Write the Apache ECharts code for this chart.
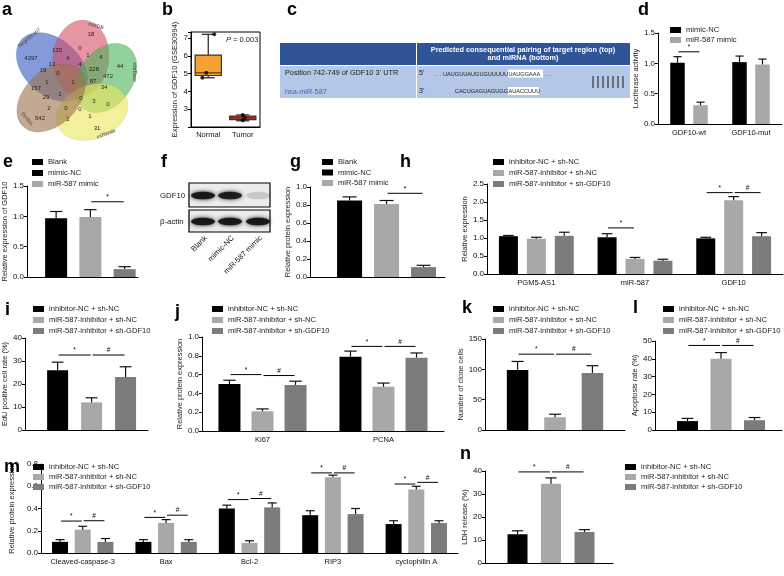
<!DOCTYPE html>
<html><head><meta charset="utf-8">
<script src="https://cdn.jsdelivr.net/npm/echarts@6.0.0/dist/echarts.min.js"></script>
<style>html,body{margin:0;padding:0;background:#fff}#c{width:784px;height:576px}</style>
</head><body><div id="c"></div>
<script>
// ---------------- DATA ----------------
// a: Venn
const vennSets = ['TargetScan7','miRDB','starBase','miRWalk','DIANA'];
const vennCounts = [4297,18,135,0,1,4,4,44,13,4,228,472,19,0,87,34,1,1,157,29,1,0,3,0,2,0,0,542,2,1,31];
// b: box plot GSE30994
const bCats = ['Normal','Tumor'];
const bStats = [[4.77,4.9,5.05,6.05,7.22],[2.35,2.42,2.52,2.62,2.68]];
const bNormalPts = [7.22,5.05,4.77];
const bTumorPts = [2.68,2.52,2.38];
const bPvalue = '0.003';
// d: luciferase
const dCats = ['GDF10-wt','GDF10-mut'];
const dSeries = ['mimic-NC','miR-587 mimic'];
const dMean = [[1.01,1.02],[0.31,0.98]];
const dErr = [[0.10,0.10],[0.05,0.09]];
const dSig = [[0,0,1,1.19,'*']];
// e: qPCR GDF10
const eSeries = ['Blank','mimic-NC','miR-587 mimic'];
const eMean = [0.97,0.99,0.13];
const eErr = [0.11,0.12,0.04];
const eSig = [[0,1,2,1.24,'*']];
// f: western blot band intensity
const fRows = ['GDF10','β-actin'];
const fLanes = ['Blank','mimic-NC','miR-587 mimic'];
const fGDF10 = [0.95,0.9,0.15];
const fActin = [0.95,0.95,0.95];
// g: protein
const gMean = [0.85,0.81,0.11];
const gErr = [0.04,0.04,0.02];
const gSig = [[0,1,2,0.93,'*']];
// shared groups h-n
const grpSeries = ['inhibitor-NC + sh-NC','miR-587-inhibitor + sh-NC','miR-587-inhibitor + sh-GDF10'];
// h
const hCats = ['PGM5-AS1','miR-587','GDF10'];
const hMean = [[1.05,1.02,0.99],[0.98,0.42,2.05],[1.06,0.37,1.05]];
const hErr = [[0.02,0.10,0.03],[0.04,0.04,0.10],[0.10,0.04,0.10]];
const hSig = [[1,0,1,1.28,'*'],[2,0,1,2.26,'*'],[2,1,2,2.26,'#']];
// i
const iMean = [26,12,23];
const iErr = [3.5,2,4.5];
const iSig = [[0,0,1,32.6,'*'],[0,1,2,32.6,'#']];
// j
const jCats = ['Ki67','PCNA'];
const jMean = [[0.50,0.79],[0.21,0.47],[0.49,0.78]];
const jErr = [[0.04,0.06],[0.025,0.04],[0.04,0.05]];
const jSig = [[0,0,1,0.60,'*'],[0,1,2,0.59,'#'],[1,0,1,0.90,'*'],[1,1,2,0.90,'#']];
// k
const kMean = [99,21,94];
const kErr = [14,5,12];
const kSig = [[0,0,1,125,'*'],[0,1,2,125,'#']];
// l
const lMean = [5,40,5.5];
const lErr = [1.5,3.5,1.5];
const lSig = [[0,0,1,47.5,'*'],[0,1,2,47.5,'#']];
// m
const mCats = ['Cleaved-caspase-3','Bax','Bcl-2','RIP3','cyclophilin A'];
const mMean = [[0.10,0.10,0.40,0.34,0.26],[0.21,0.27,0.09,0.68,0.57],[0.10,0.10,0.41,0.35,0.27]];
const mErr = [[0.02,0.02,0.03,0.04,0.03],[0.03,0.03,0.02,0.02,0.03],[0.03,0.02,0.04,0.05,0.02]];
const mSig = [[0,0,1,0.287,'*'],[0,1,2,0.29,'#'],[1,0,1,0.32,'*'],[1,1,2,0.34,'#'],[2,0,1,0.48,'*'],[2,1,2,0.49,'#'],[3,0,1,0.72,'*'],[3,1,2,0.72,'#'],[4,0,1,0.62,'*'],[4,1,2,0.635,'#']];
// n
const nMean = [12.5,34.5,13.5];
const nErr = [1.5,2.5,1];
const nSig = [[0,0,1,39.6,'*'],[0,1,2,39.6,'#']];

// ---------------- STYLE / LAYOUT ----------------
const FONT = '"Liberation Sans", Arial, Helvetica, sans-serif';
const BLK = '#000000', LG = '#a8a8a8', DG = '#7c7c7c';
const C3 = [BLK, LG, DG];
const TICK_FS = 8, CAT_FS = 7.5, NAME_FS = 7.5, LEG_FS = 7.6;
const single = a => a.map(v => [v]);

const panels = [
 {left:658,right:782,top:33,bottom:124,ymin:0,ymax:1.5,yint:0.5,dec:1,xmin:-0.5,xmax:1.5,cats:dCats,names:dSeries,colors:[BLK,LG],means:dMean,errs:dErr,bw:14.5,sp:0.371,yName:'Luciferase activity',nameGap:14,sig:dSig,leg:[670,25.5],legGap:1},
 {left:27,right:138,top:186,bottom:277,ymin:0,ymax:1.5,yint:0.5,dec:1,xmin:-1.85,xmax:1.39,cats:null,names:eSeries,colors:C3,means:single(eMean),errs:single(eErr),bw:22,sp:1,yName:'Relative expression of GDF10',nameGap:16,sig:eSig,leg:[32,157.5],legGap:2},
 {left:310,right:445,top:187,bottom:277,ymin:0,ymax:1.0,yint:0.2,dec:1,xmin:-2.07,xmax:1.58,cats:null,names:eSeries,colors:C3,means:single(gMean),errs:single(gErr),bw:25,sp:1,yName:'Relative protein expression',nameGap:16,sig:gSig,leg:[322,157.5],legGap:1.5},
 {left:487,right:783,top:184,bottom:274,ymin:0,ymax:2.5,yint:0.5,dec:1,xmin:-0.5,xmax:2.5,cats:hCats,names:grpSeries,colors:C3,means:hMean,errs:hErr,bw:19,sp:0.283,yName:'Relative expression',nameGap:15,sig:hSig,leg:[493,157.5],legGap:2},
 {left:25,right:148,top:338,bottom:430,ymin:0,ymax:40,yint:10,dec:0,xmin:-1.96,xmax:1.66,cats:null,names:grpSeries,colors:C3,means:single(iMean),errs:single(iErr),bw:21,sp:1,yName:'EdU positive cell rate (%)',nameGap:14,sig:iSig,leg:[33,304.5],legGap:2},
 {left:202,right:444,top:337,bottom:431,ymin:0,ymax:1.0,yint:0.2,dec:1,xmin:-0.5,xmax:1.5,cats:jCats,names:grpSeries,colors:C3,means:jMean,errs:jErr,bw:22,sp:0.273,yName:'Relative protein expression',nameGap:16,sig:jSig,leg:[212,304.5],legGap:2},
 {left:485,right:625,top:339,bottom:430,ymin:0,ymax:150,yint:50,dec:0,xmin:-1.87,xmax:1.87,cats:null,names:grpSeries,colors:C3,means:single(kMean),errs:single(kErr),bw:21.5,sp:1,yName:'Number of clone cells',nameGap:16,sig:kSig,leg:[493,304.5],legGap:2},
 {left:655,right:782,top:341,bottom:430,ymin:0,ymax:50,yint:10,dec:0,xmin:-1.97,xmax:1.82,cats:null,names:grpSeries,colors:C3,means:single(lMean),errs:single(lErr),bw:21,sp:1,yName:'Apoptosis rate (%)',nameGap:13,sig:lSig,leg:[663,304.5],legGap:2},
 {left:26,right:458,top:464,bottom:553,ymin:0,ymax:0.8,yint:0.2,dec:1,xmin:-0.5,xmax:4.5,cats:mCats,names:grpSeries,colors:C3,means:mMean,errs:mErr,bw:16,sp:0.272,yName:'Relative protein expression',nameGap:16,sig:mSig,leg:[33,462.5],legGap:1},
 {left:485,right:613,top:471,bottom:563,ymin:0,ymax:40,yint:10,dec:0,xmin:-1.97,xmax:1.85,cats:null,names:grpSeries,colors:C3,means:single(nMean),errs:single(nErr),bw:20,sp:1,yName:'LDH release (%)',nameGap:13,sig:nSig,leg:[625,462.5],legGap:1}
];

const grids = [], xAxes = [], yAxes = [], series = [], legends = [], gfx = [];

function barRender(bw, color) {
  return function (params, api) {
    const x = api.value(0), v = api.value(1), e = api.value(2);
    const p0 = api.coord([x, 0]), p1 = api.coord([x, v]), p2 = api.coord([x, v + e]);
    const cap = bw * 0.28;
    return {type:'group', children:[
      {type:'rect', shape:{x:p0[0]-bw/2, y:p1[1], width:bw, height:p0[1]-p1[1]}, style:{fill:color}},
      {type:'line', shape:{x1:p1[0], y1:p1[1], x2:p2[0], y2:p2[1]}, style:{stroke:'#111', lineWidth:1.2}},
      {type:'line', shape:{x1:p2[0]-cap, y1:p2[1], x2:p2[0]+cap, y2:p2[1]}, style:{stroke:'#111', lineWidth:1.2}}
    ]};
  };
}
function sigRender(texts) {
  return function (params, api) {
    const a = api.coord([api.value(0), api.value(2)]), b = api.coord([api.value(1), api.value(2)]);
    return {type:'group', children:[
      {type:'line', shape:{x1:a[0]+1, y1:a[1], x2:b[0]-1, y2:b[1]}, style:{stroke:'#000', lineWidth:1}},
      {type:'text', style:{text:texts[params.dataIndex], x:(a[0]+b[0])/2, y:a[1]-1, align:'center', verticalAlign:'bottom', fontSize:6.5, fill:'#000', fontFamily:FONT}}
    ]};
  };
}

panels.forEach(P => {
  const gi = grids.length;
  grids.push({left:P.left, top:P.top, width:P.right-P.left, height:P.bottom-P.top});
  xAxes.push({gridIndex:gi, type:'value', min:P.xmin, max:P.xmax,
    axisLine:{onZero:false, lineStyle:{color:'#000', width:1}}, axisTick:{show:false}, splitLine:{show:false},
    axisLabel: P.cats ? {customValues:P.cats.map((c,i)=>i), formatter:v => P.cats[Math.round(v)] || '', fontSize:CAT_FS, color:'#111', margin:5, fontFamily:FONT} : {show:false}});
  yAxes.push({gridIndex:gi, type:'value', min:P.ymin, max:P.ymax, interval:P.yint,
    axisLine:{show:true, onZero:false, lineStyle:{color:'#000', width:1}}, axisTick:{show:true, length:3, lineStyle:{color:'#000'}},
    splitLine:{show:false}, axisLabel:{fontSize:TICK_FS, color:'#111', margin:3, fontFamily:FONT, formatter:v => v.toFixed(P.dec)},
    name:P.yName, nameLocation:'middle', nameGap:P.nameGap, nameRotate:90, nameTextStyle:{fontSize:NAME_FS, color:'#222', fontFamily:FONT}});
  const n = P.names.length;
  const pos = (g,i) => g + (i-(n-1)/2)*P.sp;
  P.names.forEach((nm,i) => {
    series.push({type:'custom', name:nm, xAxisIndex:gi, yAxisIndex:gi, itemStyle:{color:P.colors[i]},
      data:P.means[i].map((v,g) => [pos(g,i), v, P.errs[i][g]]), renderItem:barRender(P.bw, P.colors[i])});
  });
  series.push({type:'custom', xAxisIndex:gi, yAxisIndex:gi, silent:true,
    data:P.sig.map(s => [pos(s[0],s[1]), pos(s[0],s[2]), s[3]]), renderItem:sigRender(P.sig.map(s=>s[4]))});
  legends.push({left:P.leg[0], top:P.leg[1], orient:'vertical', icon:'rect', itemWidth:11, itemHeight:6, itemGap:P.legGap, padding:0,
    selectedMode:false, data:P.names, textStyle:{fontSize:LEG_FS, lineHeight:9, color:'#222', fontFamily:FONT}});
});

// ---- panel b (box plot) ----
{
  const gi = grids.length;
  grids.push({left:191, top:32, width:69, height:95, show:true, borderColor:'#000', borderWidth:1});
  xAxes.push({gridIndex:gi, type:'category', data:bCats, boundaryGap:true,
    axisLine:{lineStyle:{color:'#000'}}, axisTick:{alignWithLabel:true, length:3, lineStyle:{color:'#000'}},
    axisLabel:{interval:0, fontSize:CAT_FS, color:'#111', margin:4, fontFamily:FONT}});
  yAxes.push({gridIndex:gi, type:'value', min:2, max:7.35, interval:1,
    axisLine:{show:true, onZero:false, lineStyle:{color:'#000'}}, axisTick:{show:true, length:3, lineStyle:{color:'#000'}},
    splitLine:{show:false}, axisLabel:{fontSize:TICK_FS, color:'#111', margin:3, fontFamily:FONT,
      formatter:v => (Number.isInteger(v) && v > 2) ? String(v) : ''},
    name:'Expression of GDF10 (GSE30994)', nameLocation:'middle', nameGap:12, nameRotate:90, nameTextStyle:{fontSize:NAME_FS, color:'#222', fontFamily:FONT}});
  const boxColors = ['#f5a234','#c8302c'];
  series.push({type:'custom', xAxisIndex:gi, yAxisIndex:gi, data:bStats.map((s,i)=>[i].concat(s)),
    renderItem:(params, api) => {
      const i = api.value(0);
      const mn = api.value(1), q1 = api.value(2), md = api.value(3), q3 = api.value(4), mx = api.value(5);
      const bw = api.size([1,0])[0]*0.76, cx = api.coord([i,0])[0], y = v => api.coord([i,v])[1];
      const cap = bw*0.25, st = {stroke:'#222', lineWidth:1.2};
      return {type:'group', children:[
        {type:'line', shape:{x1:cx, y1:y(q3), x2:cx, y2:y(mx)}, style:st},
        {type:'line', shape:{x1:cx-cap, y1:y(mx), x2:cx+cap, y2:y(mx)}, style:st},
        {type:'line', shape:{x1:cx, y1:y(q1), x2:cx, y2:y(mn)}, style:st},
        {type:'line', shape:{x1:cx-cap, y1:y(mn), x2:cx+cap, y2:y(mn)}, style:st},
        {type:'rect', shape:{x:cx-bw/2, y:y(q3), width:bw, height:y(q1)-y(q3)}, style:{fill:boxColors[i], stroke:'#333', lineWidth:1.2}},
        {type:'line', shape:{x1:cx-bw/2, y1:y(md), x2:cx+bw/2, y2:y(md)}, style:{stroke:'#5a3a10', lineWidth:1.2}}
      ]};
    }});
  const offN = [6,-2,-6], offT = [0,2,0];
  series.push({type:'scatter', xAxisIndex:gi, yAxisIndex:gi, symbolSize:4, itemStyle:{color:'#000'}, z:5,
    data: bNormalPts.map((v,k)=>({value:[0,v], symbolOffset:[offN[k],0]})).concat(bTumorPts.map((v,k)=>({value:[1,v], symbolOffset:[offT[k],0]})))});
  gfx.push({type:'text', x:226, y:40, style:{text:'{i|P} = ' + bPvalue, fontSize:7.5, fill:'#222', fontFamily:FONT, verticalAlign:'middle',
    rich:{i:{fontStyle:'italic', fontSize:7.5, fontFamily:FONT}}}});
}

// ---- panel a (Venn) ----
{
  // [cx, cy, rx, ry, screen angle deg]
  const ells = [[52,67,41,28,42],[81,58,38,28,96],[106,78,38,27,-55],[92,112,37,27,-22],[51,98,40,27,-45]];
  const cols = ['rgba(70,102,198,0.66)','rgba(212,72,96,0.58)','rgba(74,180,86,0.6)','rgba(236,230,96,0.62)','rgba(158,116,78,0.62)'];
  ells.forEach((e,k) => gfx.push({type:'ellipse', x:e[0], y:e[1], rotation:-e[4]*Math.PI/180,
      shape:{cx:0, cy:0, rx:e[2], ry:e[3]}, style:{fill:cols[k], stroke:'rgba(0,0,0,0.12)', lineWidth:0.5}}));
  const cPos = [[31,58],[91,34],[57,50],[80,48],[88,55],[101,57],[68,58],[120,66],[52,64],[80,64],[94,69],[108,76],[43,70],[58,73],[93,81],[104,87],[47,82],[73,82],[36,88],[46,97],[60,94],[81,98],[94,101],[108,104],[49,108],[66,108],[80,109],[40,118],[68,119],[90,116],[97,128]];
  vennCounts.forEach((c,k) => gfx.push({type:'text', x:cPos[k][0], y:cPos[k][1], z:20, style:{text:String(c), fontSize:6, fill:'#222', align:'center', verticalAlign:'middle', fontFamily:FONT}}));
  const lPos = [[29,38,40],[96,26,-15],[134,72,-90],[106,134,20],[27,119,-50]];
  vennSets.forEach((s,k) => gfx.push({type:'text', x:lPos[k][0], y:lPos[k][1], rotation:lPos[k][2]*Math.PI/180, z:20,
    style:{text:s, fontSize:5, fill:'#444', align:'center', verticalAlign:'middle', fontFamily:FONT}}));
}

// ---- panel c (table) ----
{
  gfx.push({type:'rect', shape:{x:280,y:43,width:136,height:22}, style:{fill:'#2f5597'}});
  gfx.push({type:'rect', shape:{x:417,y:43,width:213,height:22}, style:{fill:'#2f5597'}});
  gfx.push({type:'rect', shape:{x:280,y:66,width:136,height:32}, style:{fill:'#b4c7e7'}});
  gfx.push({type:'rect', shape:{x:417,y:66,width:213,height:32}, style:{fill:'#b4c7e7'}});
  gfx.push({type:'text', x:523, y:50, style:{text:'Predicted consequential pairing of target region (top)', fontSize:7.3, fontWeight:'bold', fill:'#fff', align:'center', verticalAlign:'middle', fontFamily:FONT}});
  gfx.push({type:'text', x:523, y:58, style:{text:'and miRNA (bottom)', fontSize:7.3, fontWeight:'bold', fill:'#fff', align:'center', verticalAlign:'middle', fontFamily:FONT}});
  gfx.push({type:'text', x:285, y:73, style:{text:'Position 742-749 of GDF10 3\u2019 UTR', fontSize:7.3, fill:'#1a1a1a', verticalAlign:'middle', fontFamily:FONT}});
  gfx.push({type:'text', x:285, y:92, style:{text:'hsa-miR-587', fontSize:7.3, fill:'#4b5cc4', verticalAlign:'middle', fontFamily:FONT}});
  gfx.push({type:'text', x:419, y:73, style:{text:'5\u2019', fontSize:7, fill:'#1a1a1a', verticalAlign:'middle', fontFamily:FONT}});
  gfx.push({type:'text', x:419, y:91, style:{text:'3\u2019', fontSize:7, fill:'#1a1a1a', verticalAlign:'middle', fontFamily:FONT}});
  gfx.push({type:'rect', shape:{x:508,y:69.5,width:35,height:8}, style:{fill:'#fff'}});
  gfx.push({type:'rect', shape:{x:508,y:87,width:31,height:8}, style:{fill:'#fff'}});
  gfx.push({type:'text', x:508, y:74, style:{text:'. . . UAUGUUAUGUGUUUUU', fontSize:5.6, fill:'#1a1a1a', align:'right', verticalAlign:'middle', fontFamily:FONT}});
  gfx.push({type:'text', x:508.5, y:74, style:{text:'UAUGGAAA', fontSize:5.6, fill:'#1a1a1a', verticalAlign:'middle', fontFamily:FONT}});
  gfx.push({type:'text', x:543.5, y:74, style:{text:'. . .', fontSize:5.6, fill:'#1a1a1a', verticalAlign:'middle', fontFamily:FONT}});
  gfx.push({type:'text', x:508, y:91, style:{text:'CACUGAGUAGUGG', fontSize:5.6, fill:'#1a1a1a', align:'right', verticalAlign:'middle', fontFamily:FONT}});
  gfx.push({type:'text', x:508.5, y:91, style:{text:'AUACCUUU', fontSize:5.6, fill:'#1a1a1a', verticalAlign:'middle', fontFamily:FONT}});
  for (let k = 0; k < 7; k++) gfx.push({type:'line', shape:{x1:593+k*5, y1:76, x2:593+k*5, y2:88}, style:{stroke:'#333', lineWidth:1.2}});
}

// ---- panel f (western blot) ----
{
  const lanesX = [203,230,258];
  const rowsY = [[183,24],[210,22]];
  const inten = [fGDF10, fActin];
  rowsY.forEach((r,ri) => {
    gfx.push({type:'rect', shape:{x:189,y:r[0],width:81,height:r[1]}, style:{fill:'#ececec', stroke:'#000', lineWidth:1.2}});
    lanesX.forEach((x,li) => {
      const a = inten[ri][li];
      gfx.push({type:'ellipse', shape:{cx:x, cy:r[0]+r[1]/2+0.5, rx:12, ry:3.8},
        style:{fill:'rgba(20,20,20,'+a+')', shadowBlur:4, shadowColor:'rgba(20,20,20,'+a+')'}});
    });
    gfx.push({type:'text', x:160, y:r[0]+r[1]/2+1, style:{text:fRows[ri], fontSize:7.8, fill:'#111', verticalAlign:'middle', fontFamily:FONT}});
  });
  fLanes.forEach((l,li) => gfx.push({type:'text', x:lanesX[li]+3, y:237, rotation:Math.PI/4,
    style:{text:l, fontSize:7.6, fill:'#111', align:'right', verticalAlign:'middle', fontFamily:FONT}}));
}

// ---- panel letters ----
[['a',2,15],['b',162,15],['c',287,15],['d',638,15],['e',3,167],['f',161,167],['g',290,167],['h',400,167],
 ['i',5,315],['j',175,317],['k',462,313],['l',633,313],['m',4,472],['n',460,459]].forEach(t =>
  gfx.push({type:'text', x:t[1], y:t[2]+3.8, z:30, style:{text:t[0], fontSize:18, fontWeight:'bold', fill:'#000', fontFamily:FONT, verticalAlign:'bottom'}}));

const chart = echarts.init(document.getElementById('c'), null, {renderer:'canvas'});
chart.setOption({
  animation:false,
  backgroundColor:'#fff',
  textStyle:{fontFamily:FONT},
  grid:grids, xAxis:xAxes, yAxis:yAxes, series:series, legend:legends,
  graphic:{elements:gfx}
});
</script></body></html>
